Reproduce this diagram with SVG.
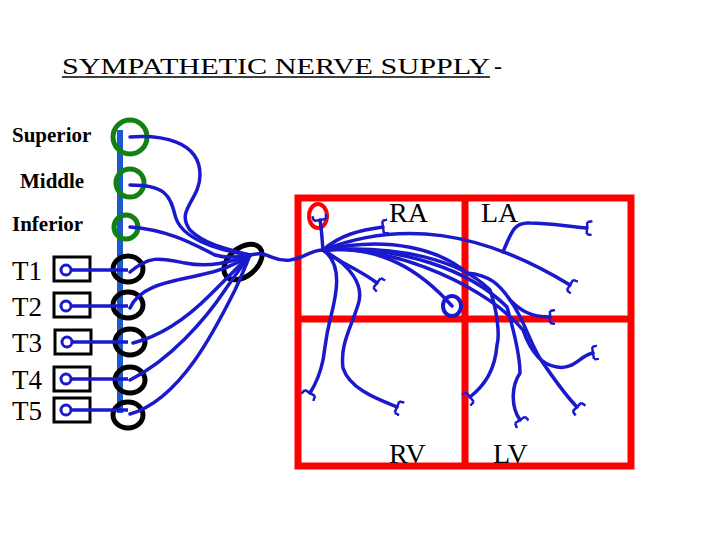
<svg xmlns="http://www.w3.org/2000/svg" width="720" height="540" viewBox="0 0 720 540">
<style>
.lbl{font-family:"Liberation Serif",serif;fill:#000}
.n{fill:none;stroke:#1a1acc;stroke-width:3.5;stroke-linecap:round}
.g{fill:none;stroke:#138013;stroke-width:5}
.k{fill:none;stroke:#000;stroke-width:5}
.box{fill:#fff;stroke:#000;stroke-width:3}
.dot{fill:#fff;stroke:#1a1acc;stroke-width:3}
</style>
<defs>
<marker id="f" viewBox="-6 -8 14 16" markerWidth="14" markerHeight="16" markerUnits="userSpaceOnUse" orient="auto">
<path d="M0,-6 L0,6 M0,-6 L5,-7 M0,6 L5,7" stroke="#1a1acc" stroke-width="2.5" fill="none"/>
</marker>
</defs>
<rect width="720" height="540" fill="#fff"/>
<g id="title">
<text class="lbl" x="62" y="74" font-size="24" textLength="428" lengthAdjust="spacingAndGlyphs">SYMPATHETIC NERVE SUPPLY</text>
<text class="lbl" x="494" y="74" font-size="24">-</text>
<line x1="62" y1="77" x2="490" y2="77" stroke="#000" stroke-width="1.5"/>
</g>
<g id="heart">
<rect x="298" y="198" width="333" height="268" fill="none" stroke="#f00" stroke-width="7"/>
<line x1="465" y1="198" x2="465" y2="466" stroke="#f00" stroke-width="7"/>
<line x1="298" y1="319" x2="631" y2="319" stroke="#f00" stroke-width="7"/>
<ellipse cx="318" cy="216" rx="9" ry="12" fill="none" stroke="#f00" stroke-width="4"/>
<ellipse cx="452" cy="306" rx="9" ry="10" fill="none" stroke="#1a1acc" stroke-width="4"/>
<text class="lbl" x="389" y="222" font-size="28">RA</text>
<text class="lbl" x="481" y="222" font-size="28">LA</text>
<text class="lbl" x="389" y="463" font-size="28">RV</text>
<text class="lbl" x="493" y="463" font-size="28">LV</text>
</g>
<g id="chain">
<line x1="120" y1="130" x2="120" y2="413" stroke="#1a5acc" stroke-width="6"/>
<circle class="g" cx="130" cy="137" r="17"/>
<circle class="g" cx="130" cy="183" r="14"/>
<circle class="g" cx="126" cy="227" r="12"/>
<ellipse class="k" cx="128" cy="269" rx="15" ry="13"/>
<ellipse class="k" cx="128" cy="305" rx="15" ry="13"/>
<ellipse class="k" cx="130" cy="342" rx="15" ry="13"/>
<ellipse class="k" cx="130" cy="380" rx="15" ry="13"/>
<ellipse class="k" cx="128" cy="415" rx="15" ry="13"/>
<ellipse class="k" cx="243" cy="262" rx="22" ry="14" transform="rotate(-40 243 262)"/>
<text class="lbl" x="12" y="142" font-size="21" font-weight="bold">Superior</text>
<text class="lbl" x="20" y="188" font-size="21" font-weight="bold">Middle</text>
<text class="lbl" x="12" y="231" font-size="21" font-weight="bold">Inferior</text>
</g>
<g id="spinal">
<rect class="box" x="54" y="257" width="36" height="24"/>
<rect class="box" x="54" y="293" width="36" height="24"/>
<rect class="box" x="55" y="330" width="36" height="24"/>
<rect class="box" x="54" y="367" width="36" height="24"/>
<rect class="box" x="54" y="398" width="36" height="24"/>
<g stroke="#1a1acc" stroke-width="3.5">
<line x1="66" y1="270" x2="128" y2="270"/>
<line x1="66" y1="306" x2="128" y2="306"/>
<line x1="67" y1="342" x2="128" y2="342"/>
<line x1="66" y1="379" x2="128" y2="379"/>
<line x1="66" y1="410" x2="128" y2="410"/>
</g>
<circle class="dot" cx="66" cy="270" r="5"/>
<circle class="dot" cx="66" cy="306" r="5"/>
<circle class="dot" cx="67" cy="342" r="5"/>
<circle class="dot" cx="66" cy="379" r="5"/>
<circle class="dot" cx="66" cy="410" r="5"/>
<text class="lbl" x="12" y="280" font-size="27">T1</text>
<text class="lbl" x="12" y="316" font-size="27">T2</text>
<text class="lbl" x="12" y="352" font-size="27">T3</text>
<text class="lbl" x="12" y="389" font-size="27">T4</text>
<text class="lbl" x="12" y="420" font-size="27">T5</text>
</g>
<g id="connectors">
<path class="n" d="M130,137 C160,135 200,140 200,175 C200,200 175,210 190,230 C205,245 230,250 250,255"/>
<path class="n" d="M130,185 C165,185 170,195 175,215 C180,238 215,250 250,255"/>
<path class="n" d="M130,227 C170,230 195,245 215,255 C225,258 240,257 250,255"/>
<path class="n" d="M130,272 C150,255 160,258 185,263 C210,268 230,262 250,255"/>
<path class="n" d="M130,308 C140,285 170,282 200,275 C225,270 240,262 250,255"/>
<path class="n" d="M133,343 C165,335 190,315 210,295 C225,280 240,265 250,255"/>
<path class="n" d="M130,380 C170,360 205,320 225,290 C235,275 243,265 250,255"/>
<path class="n" d="M130,414 C180,400 215,330 235,290 C242,275 246,265 250,255"/>
<path class="n" d="M250,255 C270,250 270,262 290,260 C305,258 310,250 323,250"/>
<path class="n" marker-end="url(#f)" d="M323,250 C322,240 322,232 320,220"/>
<path class="n" marker-end="url(#f)" d="M323,250 C340,235 360,230 383,227"/>
<path class="n" marker-end="url(#f)" d="M323,250 C335,260 360,270 377,283"/>
<path class="n" marker-end="url(#f)" d="M323,250 C400,220 480,230 570,285"/>
<path class="n" marker-end="url(#f)" d="M503,252 C512,230 515,222 530,223 C550,223 570,227 587,228"/>
<path class="n" d="M323,250 C380,245 420,270 452,306"/>
<path class="n" marker-end="url(#f)" d="M323,250 C390,235 440,250 467,273 C490,275 500,285 510,300 C520,310 530,317 550,317"/>
<path class="n" marker-end="url(#f)" d="M323,250 C400,245 460,260 490,290 C497,310 500,335 497,345 C495,370 485,385 470,397"/>
<path class="n" marker-end="url(#f)" d="M323,250 C400,245 470,270 507,307 C515,335 520,360 520,373 C512,385 510,405 520,420"/>
<path class="n" marker-end="url(#f)" d="M323,250 C400,245 490,290 523,330 C530,350 540,365 557,367 C575,370 580,355 593,353"/>
<path class="n" marker-end="url(#f)" d="M510,300 C525,320 530,345 543,363 C555,380 565,395 577,407"/>
<path class="n" marker-end="url(#f)" d="M323,250 C345,265 335,300 330,320 C325,340 325,350 323,360 C320,375 315,385 310,393"/>
<path class="n" marker-end="url(#f)" d="M323,250 C350,265 365,285 358,305 C350,330 340,345 343,368 C350,390 380,400 397,407"/>
</g>
</svg>
